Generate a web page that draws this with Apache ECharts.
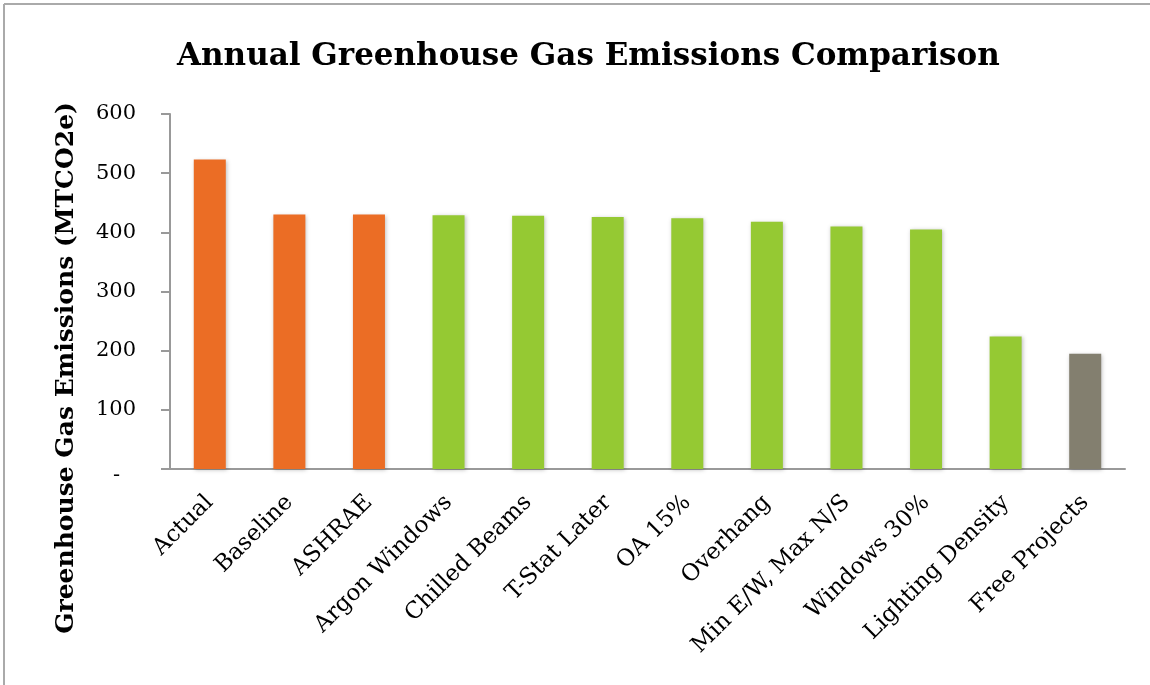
<!DOCTYPE html>
<html>
<head>
<meta charset="utf-8">
<script src="https://cdn.jsdelivr.net/npm/echarts@6/dist/echarts.min.js"></script>
<style>
  html, body { margin: 0; padding: 0; background: #fff; }
  #chart { width: 1150px; height: 685px; }
</style>
</head>
<body>
<div id="chart"></div>
<script>
// Emission scenarios, in display order
const categories = [
  'Actual', 'Baseline', 'ASHRAE', 'Argon Windows', 'Chilled Beams', 'T-Stat Later',
  'OA 15%', 'Overhang', 'Min E/W, Max N/S', 'Windows 30%', 'Lighting Density', 'Free Projects'
];
// Annual emissions, MTCO2e
const emissions = [523, 430, 430, 429, 428, 426, 424, 418, 410, 405, 224, 195];
// Bar group: reference cases, efficiency measures, free projects
const groups = ['ref', 'ref', 'ref', 'eem', 'eem', 'eem', 'eem', 'eem', 'eem', 'eem', 'eem', 'free'];
const groupColors = { ref: '#EB6D25', eem: '#95C933', free: '#837F6F' };
const yAxisTitle = 'Greenhouse Gas Emissions (MTCO2e)';

const serif = '"DejaVu Serif", "Liberation Serif", serif';
const chart = echarts.init(document.getElementById('chart'));

chart.setOption({
  backgroundColor: '#fff',
  animation: false,
  title: {
    text: 'Annual Greenhouse Gas Emissions Comparison',
    left: 172,
    top: 36,
    textStyle: { fontFamily: serif, fontWeight: 'bold', fontSize: 31, color: '#000' }
  },
  graphic: [
    { type: 'line', shape: { x1: 4, y1: 4, x2: 1150, y2: 4 }, style: { stroke: '#aaa', lineWidth: 2 } },
    { type: 'line', shape: { x1: 4, y1: 4, x2: 4, y2: 685 }, style: { stroke: '#aaa', lineWidth: 2 } },
    {
      type: 'text',
      x: 66, y: 368,
      rotation: Math.PI / 2,
      style: {
        text: yAxisTitle,
        fontFamily: serif, fontWeight: 'bold', fontSize: 25, fill: '#000',
        align: 'center', verticalAlign: 'middle'
      }
    }
  ],
  grid: { left: 170, right: 25, top: 114, bottom: 216, containLabel: false },
  xAxis: {
    type: 'category',
    data: categories,
    axisLine: { lineStyle: { color: '#999', width: 2 } },
    axisTick: { show: false },
    axisLabel: {
      rotate: 45,
      interval: 0,
      margin: 30,
      fontFamily: serif,
      fontSize: 23,
      color: '#000'
    }
  },
  yAxis: {
    type: 'value',
    min: 0,
    max: 600,
    interval: 100,
    axisLine: { show: true, lineStyle: { color: '#999', width: 2 } },
    axisTick: { show: true, length: 9, lineStyle: { color: '#999', width: 2 } },
    splitLine: { show: false },
    axisLabel: {
      margin: 34,
      fontFamily: serif,
      fontSize: 21,
      color: '#000',
      formatter: v => (v === 0 ? '{dash|-}' : String(v)),
      rich: {
        dash: { fontFamily: serif, fontSize: 21, color: '#000', padding: [14, 16, 0, 0] }
      }
    }
  },
  series: [{
    type: 'bar',
    data: emissions.map((v, i) => ({ value: v, itemStyle: { color: groupColors[groups[i]] } })),
    barWidth: 32,
    itemStyle: {
      shadowColor: 'rgba(0,0,0,0.25)',
      shadowBlur: 4,
      shadowOffsetX: 1,
      shadowOffsetY: 1
    }
  }]
});
</script>
</body>
</html>
